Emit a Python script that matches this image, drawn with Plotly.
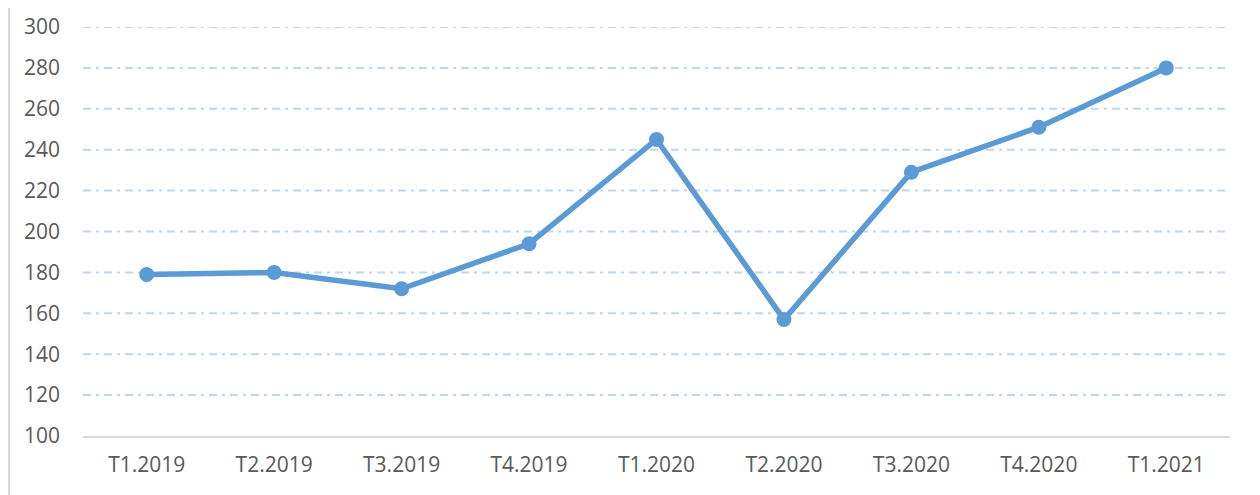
import plotly.graph_objects as go

categories = ["T1.2019", "T2.2019", "T3.2019", "T4.2019", "T1.2020",
              "T2.2020", "T3.2020", "T4.2020", "T1.2021"]
values = [179, 180, 172, 194, 245, 157, 229, 251, 280]
y_ticks = [100, 120, 140, 160, 180, 200, 220, 240, 260, 280, 300]

# page has an 8px body margin; compensate
W, H = 1252, 487
ML, MR, MT, MB = 75, 30, 19, 59
pw = W - ML - MR
ph = H - MT - MB

fig = go.Figure()
fig.add_trace(go.Scatter(
    x=categories, y=values, mode="lines+markers",
    line=dict(color="#5B9BD5", width=5.5),
    marker=dict(color="#5B9BD5", size=15),
    showlegend=False, cliponaxis=False,
))

# gridlines (dash-dot)
for v in y_ticks[1:]:
    fig.add_shape(type="line", xref="paper", yref="y", x0=0, x1=1, y0=v, y1=v,
                  line=dict(color="#BDD7EE", width=2, dash="8px,5px,3px,5px"), layer="below")

# outer frame vertical lines
for px in (1.0, 1249.0):
    xp = (px - ML) / pw
    fig.add_shape(type="line", xref="paper", yref="paper", x0=xp, x1=xp,
                  y0=-MB / ph - 0.01, y1=1 + MT / ph + 0.01,
                  line=dict(color="#D9D9D9", width=2))

fig.update_layout(
    width=W, height=H,
    margin=dict(l=ML, r=MR, t=MT, b=MB, autoexpand=False),
    paper_bgcolor="white", plot_bgcolor="white",
    font=dict(family="Open Sans, Noto Sans, sans-serif", size=21, color="#595959"),
    xaxis=dict(type="category", range=[-0.5, 8.5], showgrid=False, zeroline=False,
               showline=True, linecolor="#D9D9D9", linewidth=2, ticks="",
               automargin=False,
               tickfont=dict(size=21, color="#595959"), ticklabelstandoff=9),
    yaxis=dict(range=[100, 300], tickvals=y_ticks, showgrid=False, zeroline=False,
               showline=False, ticks="", automargin=False,
               tickfont=dict(size=21, color="#595959"),
               ticklabelstandoff=22),
)

fig.write_html("out.html")
